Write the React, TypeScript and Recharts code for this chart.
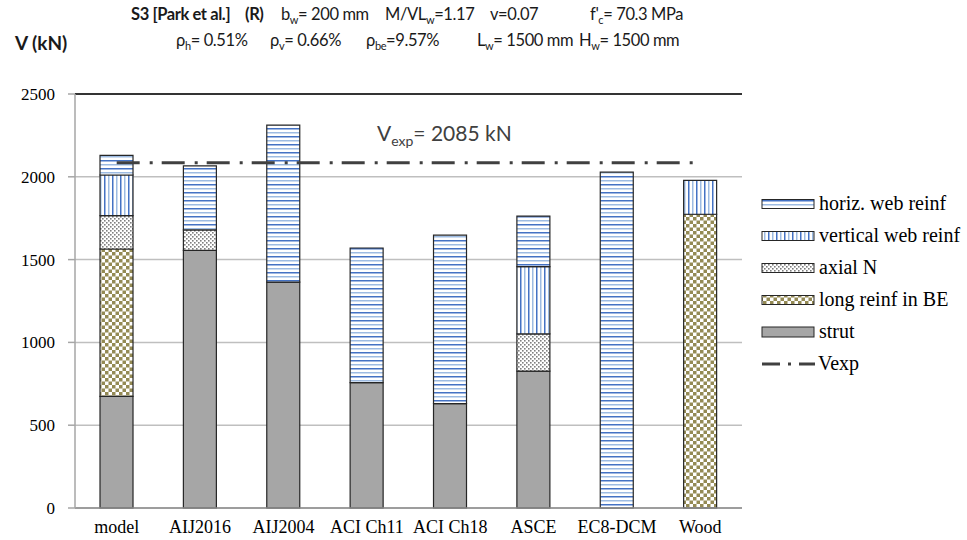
import { ComposedChart, Bar, Line, XAxis, YAxis, CartesianGrid, ReferenceLine } from 'recharts'

const categories = ['model', 'AIJ2016', 'AIJ2004', 'ACI Ch11', 'ACI Ch18', 'ASCE', 'EC8-DCM', 'Wood']
const strut = [674, 1556, 1364, 757, 630, 827, 0, 0]
const longReinfBE = [890, 0, 0, 0, 0, 0, 0, 1774]
const axialN = [201, 123, 0, 0, 0, 224, 0, 0]
const verticalWeb = [246, 0, 0, 0, 0, 406, 0, 204]
const horizWeb = [118, 387, 948, 813, 1018, 305, 2028, 0]
const VEXP = 2085
const yTicks = [0, 500, 1000, 1500, 2000, 2500]

const data = categories.map((name, i) => ({
  name,
  strut: strut[i],
  longReinfBE: longReinfBE[i],
  axialN: axialN[i],
  verticalWeb: verticalWeb[i],
  horizWeb: horizWeb[i],
  vexp: VEXP,
}))

const SERIF = "'Liberation Serif', 'Times New Roman', serif"
const SANS = "Lato, 'Open Sans', sans-serif"
const EDGE = '#262626'

// legend rows, top to bottom
const legendItems = [
  { label: 'horiz. web reinf', fill: 'url(#pHoriz)' },
  { label: 'vertical web reinf', fill: 'url(#pVert)' },
  { label: 'axial N', fill: 'url(#pDots)' },
  { label: 'long reinf in BE', fill: 'url(#pCheck)' },
  { label: 'strut', fill: '#a6a6a6' },
]

function Patterns() {
  return (
    <svg width={0} height={0} style={{ position: 'absolute' }}>
      <defs>
        <pattern id="pHoriz" width="8" height="8" patternUnits="userSpaceOnUse">
          <rect width="8" height="8" fill="#fff" />
          <rect y="0" width="8" height="1.5" fill="#4472c4" />
          <rect y="4" width="8" height="1.5" fill="#9dbbe2" />
        </pattern>
        <pattern id="pVert" width="8" height="8" patternUnits="userSpaceOnUse">
          <rect width="8" height="8" fill="#fff" />
          <rect x="0" width="1.5" height="8" fill="#4472c4" />
          <rect x="4" width="1.5" height="8" fill="#9dbbe2" />
        </pattern>
        <pattern id="pDots" width="4" height="4" patternUnits="userSpaceOnUse">
          <rect width="4" height="4" fill="#fff" />
          <rect x="0" y="0" width="1.6" height="1.6" fill="#7f7f7f" />
          <rect x="2" y="2" width="1.6" height="1.6" fill="#7f7f7f" />
        </pattern>
        <pattern id="pCheck" width="7" height="7" patternUnits="userSpaceOnUse">
          <rect width="7" height="7" fill="#fff" />
          <rect x="0" y="0" width="3.5" height="3.5" fill="#948a54" />
          <rect x="3.5" y="3.5" width="3.5" height="3.5" fill="#948a54" />
        </pattern>
      </defs>
    </svg>
  )
}

// base text, subscript, then the rest back on the baseline
function subText(base: string, sub: string, rest: string, subSize = 11, shift = 4) {
  return (
    <>
      {base}
      <tspan dy={shift} fontSize={subSize}>{sub}</tspan>
      <tspan dy={-shift}>{rest}</tspan>
    </>
  )
}

function Overlay() {
  return (
    <svg width={967} height={540} style={{ position: 'absolute', left: 0, top: 0, pointerEvents: 'none' }}>
      <g fontFamily={SANS} fontSize={16.5} letterSpacing={-0.4} fill="#1a1a1a">
        <text x={131} y={20} fontWeight="bold">S3 [Park et al.]</text>
        <text x={245} y={20} fontWeight="bold">(R)</text>
        <text x={281} y={20}>{subText('b', 'w', '= 200 mm')}</text>
        <text x={385} y={20}>{subText('M/VL', 'w', '=1.17')}</text>
        <text x={490} y={20}>v=0.07</text>
        <text x={590} y={20}>{subText("f'", 'c', '= 70.3 MPa')}</text>

        <text x={176} y={46}>{subText('ρ', 'h', '= 0.51%')}</text>
        <text x={270} y={46}>{subText('ρ', 'v', '= 0.66%')}</text>
        <text x={366} y={46}>{subText('ρ', 'be', '=9.57%')}</text>
        <text x={477} y={46}>{subText('L', 'w', '= 1500 mm')}</text>
        <text x={579} y={46}>{subText('H', 'w', '= 1500 mm')}</text>

        <text x={15} y={50} fontWeight="bold" fontSize={19} letterSpacing={0}>V (kN)</text>

        <text x={377} y={141} fontSize={21} letterSpacing={0} fill="#404040">
          {subText('V', 'exp', '=  2085 kN', 14, 5)}
        </text>
      </g>

      <g fontFamily={SERIF} fontSize={20} fill="#000">
        {legendItems.map((item, i) => {
          const cy = 204 + i * 32
          const h = item.label === 'strut' ? 10 : 9
          return (
            <g key={item.label}>
              <rect x={762} y={cy - h / 2} width={52} height={h} fill={item.fill} stroke={EDGE} strokeWidth={1} />
              <text x={819} y={cy + 6}>{item.label}</text>
            </g>
          )
        })}
        <line x1={762} y1={364} x2={815} y2={364} stroke="#404040" strokeWidth={3} strokeDasharray="18 8 3 8" />
        <text x={818} y={370}>Vexp</text>
      </g>
    </svg>
  )
}

export default function App() {
  return (
    <div style={{ position: 'absolute', left: 0, top: 0, width: 967, height: 540, background: '#fff' }}>
      <Patterns />
      <ComposedChart
        width={967}
        height={540}
        data={data}
        margin={{ top: 94, right: 225, bottom: 2, left: 15 }}
        barCategoryGap="30%"
      >
        <CartesianGrid horizontal vertical={false} stroke="#bfbfbf" strokeWidth={1.5} />
        <XAxis
          dataKey="name"
          height={30}
          tickLine={false}
          tickSize={0}
          tickMargin={12}
          axisLine={{ stroke: '#8c8c8c', strokeWidth: 1.5 }}
          tick={{ fontFamily: SERIF, fontSize: 18, fill: '#000' }}
          interval={0}
        />
        <YAxis
          width={60}
          domain={[0, 2500]}
          ticks={yTicks}
          interval={0}
          tickSize={7}
          tickMargin={13}
          axisLine={{ stroke: '#a6a6a6', strokeWidth: 1.5 }}
          tickLine={{ stroke: '#a6a6a6', strokeWidth: 1.5 }}
          tick={{ fontFamily: SERIF, fontSize: 17, fill: '#000' }}
        />
        <YAxis
          yAxisId="right"
          orientation="right"
          width={0}
          domain={[0, 2500]}
          tick={false}
          tickLine={false}
          axisLine={{ stroke: '#595959', strokeWidth: 1.5 }}
        />
        <ReferenceLine y={2500} stroke="#000" strokeWidth={1.5} />
        <Bar dataKey="strut" stackId="v" fill="#a6a6a6" stroke={EDGE} strokeWidth={1.2} isAnimationActive={false} />
        <Bar dataKey="longReinfBE" stackId="v" fill="url(#pCheck)" stroke={EDGE} strokeWidth={1.2} isAnimationActive={false} />
        <Bar dataKey="axialN" stackId="v" fill="url(#pDots)" stroke={EDGE} strokeWidth={1.2} isAnimationActive={false} />
        <Bar dataKey="verticalWeb" stackId="v" fill="url(#pVert)" stroke={EDGE} strokeWidth={1.2} isAnimationActive={false} />
        <Bar dataKey="horizWeb" stackId="v" fill="url(#pHoriz)" stroke={EDGE} strokeWidth={1.2} isAnimationActive={false} />
        <Line
          dataKey="vexp"
          type="linear"
          stroke="#404040"
          strokeWidth={3}
          strokeDasharray="23 10 3 9"
          dot={false}
          activeDot={false}
          isAnimationActive={false}
        />
      </ComposedChart>
      <Overlay />
    </div>
  )
}
